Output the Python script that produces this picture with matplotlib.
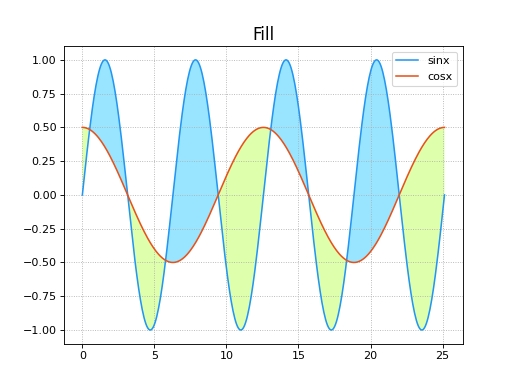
import numpy as np
import matplotlib
matplotlib.use("Agg")
from matplotlib import pyplot as plt

# ================================================================
# DATA
# ================================================================
X_START = 0.0
X_END = 8 * np.pi
N_POINTS = 400
SIN_AMP = 1.0
COS_AMP = 0.5
COS_FREQ = 0.5

x = np.linspace(X_START, X_END, N_POINTS)
sin_y = SIN_AMP * np.sin(x)
cos_y = COS_AMP * np.cos(COS_FREQ * x)

labels = ["sinx", "cosx"]
title = "Fill"

# ================================================================
# PLOT
# ================================================================
fig, ax = plt.subplots(figsize=(514 / 80, 386 / 80), dpi=80)

ax.plot(x, sin_y, color="#2196F3", lw=1.4, label=labels[0])
ax.plot(x, cos_y, color="#E8511A", lw=1.4, label=labels[1])

ax.fill_between(x, sin_y, cos_y, where=sin_y >= cos_y, interpolate=True,
                color="#00BFFF", alpha=0.4, lw=0)
ax.fill_between(x, sin_y, cos_y, where=sin_y <= cos_y, interpolate=True,
                color="#ADFF2F", alpha=0.4, lw=0)

ax.set_title(title, fontsize=15)
ax.grid(True, linestyle=":", color="#b0b0b0", lw=0.8)
ax.legend(loc="upper right")

fig.savefig("out.png", dpi=80)
